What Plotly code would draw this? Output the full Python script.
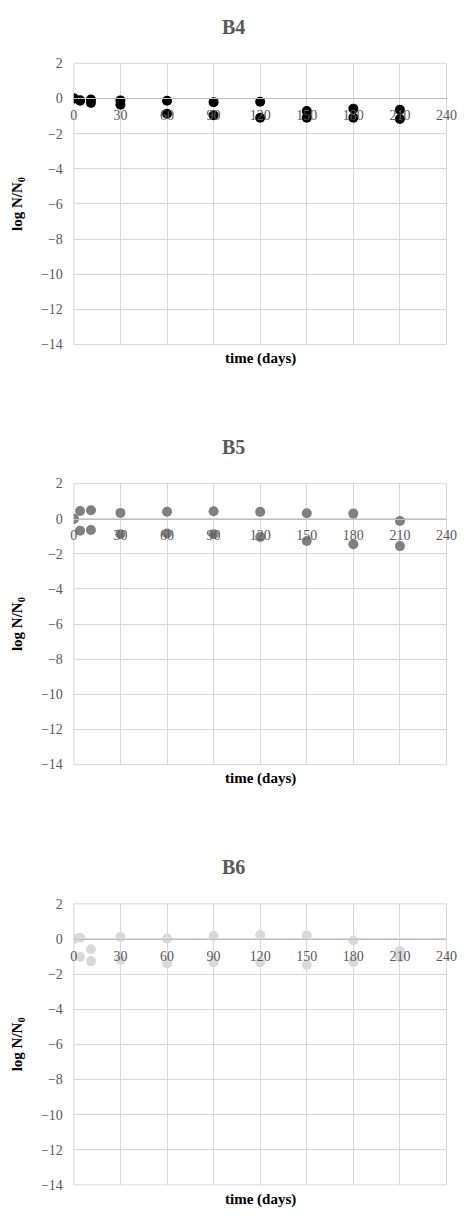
import plotly.graph_objects as go

# ---- data ----
days = [0, 4, 11, 30, 60, 90, 120, 150, 180, 210]

b4_rep1 = [0.00, -0.13, -0.06, -0.11, -0.13, -0.21, -0.19, -0.72, -0.58, -0.64]
b4_rep2 = [0.00, -0.10, -0.25, -0.36, -0.87, -0.96, -1.10, -1.10, -1.10, -1.17]

b5_rep1 = [0.00, 0.44, 0.48, 0.33, 0.40, 0.42, 0.39, 0.31, 0.29, -0.13]
b5_rep2 = [0.00, -0.68, -0.64, -0.88, -0.84, -0.88, -1.04, -1.27, -1.45, -1.56]

b6_rep1 = [0.00, 0.07, -0.59, 0.11, 0.02, 0.17, 0.22, 0.20, -0.09, -0.68]
b6_rep2 = [0.00, -1.02, -1.26, -1.20, -1.39, -1.33, -1.33, -1.48, -1.33, -1.05]

panel_titles = ["B4", "B5", "B6"]
x_ticks = [0, 30, 60, 90, 120, 150, 180, 210, 240]
y_ticks = [2, 0, -2, -4, -6, -8, -10, -12, -14]

# ---- styling / layout ----
W, H = 473, 1221
colors = ["#000000", "#808080", "#d9d9d9"]
series = [(b4_rep1, b4_rep2), (b5_rep1, b5_rep2), (b6_rep1, b6_rep2)]

def px_x(px):
    return px / W

def py(px):
    return 1 - px / H

x_dom = [px_x(72), px_x(456)]
tops_px = [57, 482.5, 908]
bots_px = [341.7, 767, 1192.5]
title_px = [20, 445.5, 871]
xtitle_px = [356, 781.5, 1207]

FONT = "Liberation Serif"
GRID = "#d9d9d9"

fig = go.Figure()
layout = dict(
    width=W, height=H,
    margin=dict(l=0, r=0, t=0, b=0),
    paper_bgcolor="white", plot_bgcolor="white",
    showlegend=False,
    font=dict(family=FONT, color="#595959"),
)
annotations = []
shapes = []

for i in range(3):
    n = "" if i == 0 else str(i + 1)
    y0, y1 = py(bots_px[i]), py(tops_px[i])
    r1, r2 = series[i]
    for vals in (r1, r2):
        fig.add_trace(go.Scatter(
            x=days, y=vals, mode="markers",
            marker=dict(size=10, color=colors[i], line=dict(width=0)),
            xaxis="x" + n, yaxis="y" + n, hoverinfo="skip",
        ))
    layout["xaxis" + n] = dict(
        domain=x_dom, range=[0, 240], tickvals=x_ticks,
        anchor="free", position=y0 + (14 / 16) * (y1 - y0),
        showgrid=True, gridcolor=GRID, gridwidth=1,
        showline=True, linecolor="#bfbfbf", linewidth=1,
        zeroline=False, ticks="", ticklabelstandoff=4,
        tickfont=dict(family=FONT, size=14, color="#595959"),
    )
    layout["yaxis" + n] = dict(
        domain=[y0, y1], range=[-14, 2], tickvals=y_ticks,
        anchor="x" + n,
        showgrid=True, gridcolor=GRID, gridwidth=1,
        zeroline=False, showline=False, ticks="", ticklabelstandoff=10,
        tickfont=dict(family=FONT, size=14, color="#595959"),
        title=dict(text="log N/N<sub>0</sub>", standoff=14,
                   font=dict(family=FONT, size=15, color="#000000", weight="bold")),
    )
    shapes.append(dict(type="rect", xref="x" + n + " domain", yref="y" + n + " domain",
                       x0=0, x1=1, y0=0, y1=1, line=dict(color=GRID, width=1),
                       layer="below"))
    annotations.append(dict(text=panel_titles[i], x=px_x(236.5), y=py(title_px[i]),
                            xref="paper", yref="paper", showarrow=False,
                            xanchor="center", yanchor="middle",
                            font=dict(family=FONT, size=20, color="#595959", weight="bold")))
    annotations.append(dict(text="time (days)", x=(x_dom[0] + x_dom[1]) / 2, y=py(xtitle_px[i]),
                            xref="paper", yref="paper", showarrow=False,
                            xanchor="center", yanchor="middle",
                            font=dict(family=FONT, size=15, color="#000000", weight="bold")))

layout["annotations"] = annotations
layout["shapes"] = shapes
fig.update_layout(**layout)
fig.write_html(
    "out.html",
    config={"displayModeBar": False},
    post_script="document.body.style.margin='0';document.body.style.overflow='hidden';",
)
